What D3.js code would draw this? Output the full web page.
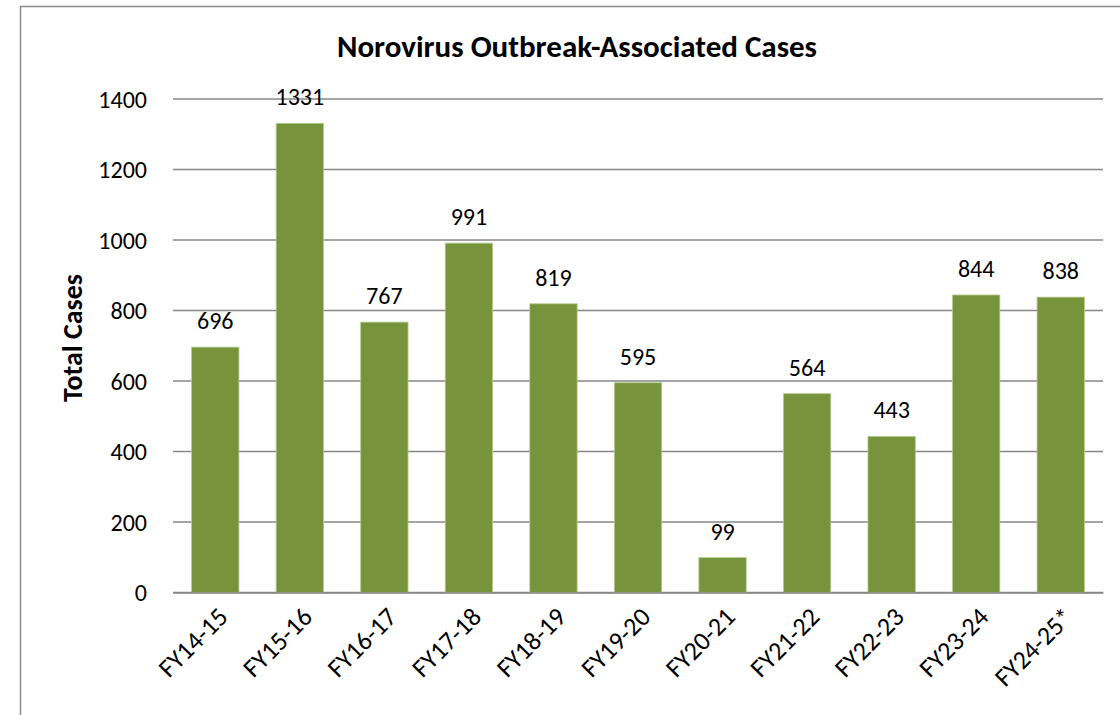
<!DOCTYPE html>
<html><head><meta charset="utf-8">
<script src="https://cdn.jsdelivr.net/npm/d3@7"></script>
<style>body{margin:0;background:#fff;} text{font-family:Carlito,Lato,"Open Sans",sans-serif;}</style>
</head><body><svg id="c" width="1120" height="715"></svg>
<script>
const categories = ["FY14-15","FY15-16","FY16-17","FY17-18","FY18-19","FY19-20","FY20-21","FY21-22","FY22-23","FY23-24","FY24-25*"];
const values = [696,1331,767,991,819,595,99,564,443,844,838];
const yTicks = [0,200,400,600,800,1000,1200,1400];
const title = "Norovirus Outbreak-Associated Cases";
const yLabel = "Total Cases";
const FF = "Carlito,Lato,'Open Sans',sans-serif";

const svg = d3.select("#c");
svg.append("rect").attr("x",20.5).attr("y",6.5).attr("width",1130).attr("height",730)
  .attr("fill","#fff").attr("stroke","#8c8c8c").attr("stroke-width",1.5);

const L=173, R=1103, T=99, B=592.5;
const x = d3.scaleBand().domain(categories).range([L,R]).paddingInner(0.44).paddingOuter(0.22);
const y = d3.scaleLinear().domain([0,1400]).range([B,T]);

const g = svg.append("g");
g.selectAll("line.grid").data(yTicks).join("line")
  .attr("x1",L).attr("x2",R).attr("y1",d=>y(d)).attr("y2",d=>y(d))
  .attr("stroke","#868686").attr("stroke-width",1.5);

const ya = svg.append("g").attr("transform",`translate(${L},0)`)
  .call(d3.axisLeft(y).tickValues(yTicks).tickFormat(d3.format("d")).tickSize(0).tickPadding(26));
ya.select(".domain").remove();
ya.selectAll("text").attr("font-size",24).attr("fill","#000").attr("dy","0.35em").style("font-family",FF);

g.selectAll("rect.bar").data(values).join("rect")
  .attr("x",(d,i)=>x(categories[i])).attr("width",x.bandwidth())
  .attr("y",d=>y(d)).attr("height",d=>B-y(d))
  .attr("fill","#77933C").attr("stroke","#b5cc8a").attr("stroke-width",0.8);

g.selectAll("text.val").data(values).join("text")
  .attr("x",(d,i)=>x(categories[i])+x.bandwidth()/2).attr("y",d=>y(d)-18)
  .attr("text-anchor","middle").attr("font-size",24).attr("fill","#000").text(d=>d);

const xa = svg.append("g").attr("transform",`translate(0,${B})`)
  .call(d3.axisBottom(x).tickSize(0).tickPadding(0));
xa.select(".domain").attr("stroke","#868686").attr("stroke-width",1.5);
xa.selectAll("text").attr("font-size",26).attr("fill","#000")
  .style("font-family",FF)
  .attr("text-anchor","end").attr("dy",0).attr("y",0)
  .attr("transform","translate(14,26) rotate(-45)");

svg.append("text").attr("x",577).attr("y",57).attr("text-anchor","middle")
  .attr("font-size",31).attr("font-weight","bold").text(title);
svg.append("text").attr("transform","translate(82,338) rotate(-90)").attr("text-anchor","middle")
  .attr("font-size",28).attr("font-weight","bold").text(yLabel);
</script></body></html>
